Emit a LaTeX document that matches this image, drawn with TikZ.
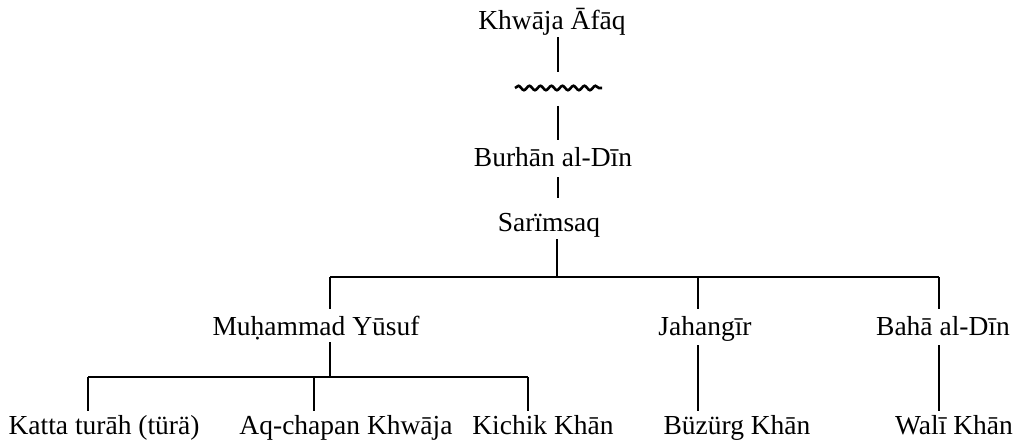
\documentclass[tikz,border=0pt]{standalone}
\usepackage{fontspec}
\setmainfont{Liberation Serif}
\usetikzlibrary{decorations.pathmorphing}

\tikzset{
  person/.style={font=\fontsize{27.5pt}{30pt}\selectfont, inner sep=0pt, anchor=base,
                 text height=23pt, text depth=7pt},
  link/.style={line width=1.2pt, black},
  wavy/.style={line width=2.6pt, black, decorate,
               decoration={snake, segment length=11pt, amplitude=2.2pt}}
}

\begin{document}
\begin{tikzpicture}[x=1pt, y=-1pt]
  \useasboundingbox (0,0) rectangle (1019,443);
  % top of the line
  \node [person] (khw) at (552,30) {Khwāja Āfāq};
  \coordinate (gap) at (558,88);
  \node [person] (bur) at (553,167) {Burhān al-Dīn};
  \node [person] (sar) at (549,232) {Sarïmsaq};
  % sons of Sarimsaq
  \node [person] (yus) at (316,335) {Muḥammad Yūsuf};
  \node [person] (jah) at (705,335) {Jahangīr};
  \node [person] (bah) at (943,335) {Bahā al-Dīn};
  % grandsons
  \node [person] (kat) at (104,434) {Katta turāh (türä)};
  \node [person] (aqc) at (346,434) {Aq-chapan Khwāja};
  \node [person] (kic) at (543,434) {Kichik Khān};
  \node [person] (buz) at (737,434) {Büzürg Khān};
  \node [person] (wal) at (954,434) {Walī Khān};
  % junctions
  \coordinate (sarbar) at (557,277);
  \coordinate (yusx) at (330,277);
  \coordinate (jahx) at (698,277);
  \coordinate (bahx) at (939,277);
  \coordinate (yusbar) at (330,377);
  \coordinate (katx) at (88,377);
  \coordinate (aqcx) at (314,377);
  \coordinate (kicx) at (528,377);
  % broken line of descent
  \draw [link] (gap |- khw.south) -- ([yshift=16pt]gap);
  \draw [wavy] ([xshift=-43pt]gap) -- ([xshift=44pt]gap);
  \draw [link, shorten >=4pt] ([yshift=-18pt]gap) -- (gap |- bur.north);
  \draw [link, shorten <=3pt, shorten >=11pt] (gap |- bur.south) -- (gap |- sar.north);
  % Sarimsaq to his sons
  \draw [link] (sarbar |- sar.south) -- (sarbar);
  \draw [link] (yusx) -- (bahx);
  \foreach \s/\n in {yusx/yus, jahx/jah, bahx/bah}
    \draw [link, shorten >=3pt] (\s) -- (\s |- \n.north);
  % Muhammad Yusuf to his sons
  \draw [link] (yusbar |- yus.south) -- (yusbar);
  \draw [link] (katx) -- (kicx);
  \foreach \s/\n in {katx/kat, aqcx/aqc, kicx/kic}
    \draw [link] (\s) -- (\s |- \n.north);
  % single sons
  \draw [link, shorten <=3pt] (jahx |- jah.south) -- (jahx |- buz.north);
  \draw [link, shorten <=3pt] (bahx |- bah.south) -- (bahx |- wal.north);
\end{tikzpicture}
\end{document}
